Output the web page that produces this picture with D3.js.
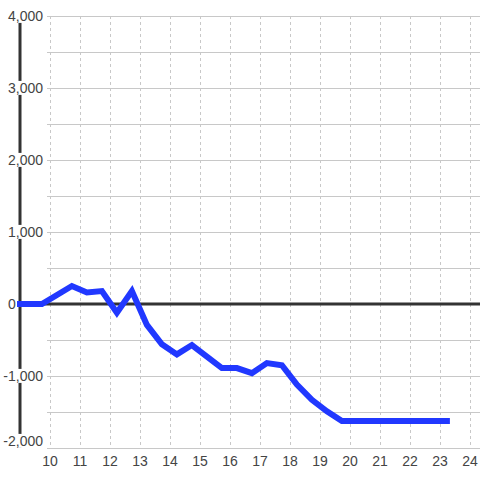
<!DOCTYPE html>
<html>
<head>
<meta charset="utf-8">
<script src="https://cdn.jsdelivr.net/npm/d3@7"></script>
<style>
  body { margin: 0; background: #fff; }
  text { font-family: "Liberation Sans", Arial, sans-serif; }
</style>
</head>
<body>
<div id="chart"></div>
<script>
// data
var hours  = [8.9, 9.73, 10.73, 11.23, 11.73, 12.23, 12.73, 13.23, 13.73, 14.23, 14.73,
              15.23, 15.73, 16.23, 16.73, 17.23, 17.73, 18.23, 18.73, 19.23, 19.73, 23.33];
var values = [0, 0, 250, 160, 180, -120, 180, -290, -560, -700, -570,
              -730, -890, -890, -960, -820, -850, -1120, -1330, -1490, -1625, -1625];
var xTicks = [10, 11, 12, 13, 14, 15, 16, 17, 18, 19, 20, 21, 22, 23, 24];
var yTicks = [-2000, -1000, 0, 1000, 2000, 3000, 4000];
var yGrid  = [-2000, -1500, -1000, -500, 500, 1000, 1500, 2000, 2500, 3000, 3500, 4000];

var chart_width  = 480;
var chart_height = 480;

var svg = d3.select('#chart')
  .append('svg')
  .attr('width', chart_width)
  .attr('height', chart_height);

var x_scale = d3.scaleLinear()
  .domain([9, 24 + 1 / 3])
  .range([20, 480]);

var y_scale = d3.scaleLinear()
  .domain([-2000, 4000])
  .range([448, 16]);

// horizontal grid
svg.append('g')
  .selectAll('line')
  .data(yGrid)
  .enter()
  .append('line')
  .attr('x1', 47)
  .attr('x2', chart_width)
  .attr('y1', function(d){ return Math.round(y_scale(d)) + 0.5; })
  .attr('y2', function(d){ return Math.round(y_scale(d)) + 0.5; })
  .attr('stroke', '#c8c8c8')
  .attr('stroke-width', 1);

// vertical dashed grid
svg.append('g')
  .selectAll('line')
  .data(xTicks)
  .enter()
  .append('line')
  .attr('x1', function(d){ return Math.round(x_scale(d)) + 0.5; })
  .attr('x2', function(d){ return Math.round(x_scale(d)) + 0.5; })
  .attr('y1', y_scale(4000))
  .attr('y2', y_scale(-2000))
  .attr('stroke', '#c8c8c8')
  .attr('stroke-width', 1)
  .attr('stroke-dasharray', '3,3');

// zero line
svg.append('line')
  .attr('x1', x_scale(9))
  .attr('x2', chart_width)
  .attr('y1', y_scale(0))
  .attr('y2', y_scale(0))
  .attr('stroke', '#333')
  .attr('stroke-width', 3);

// y axis line
svg.append('line')
  .attr('x1', x_scale(9))
  .attr('x2', x_scale(9))
  .attr('y1', y_scale(4000))
  .attr('y2', y_scale(-2000))
  .attr('stroke', '#333')
  .attr('stroke-width', 3);

// y labels (with white background over the axis)
var yLab = svg.append('g')
  .selectAll('g')
  .data(yTicks)
  .enter()
  .append('g');

yLab.append('text')
  .attr('x', function(d){ return d === 0 ? 8 : 43; })
  .attr('y', function(d){ return Math.min(y_scale(d), 441); })
  .attr('dy', '0.35em')
  .attr('text-anchor', function(d){ return d === 0 ? 'start' : 'end'; })
  .attr('font-size', 14)
  .attr('fill', '#444')
  .text(function(d){ return d3.format(',')(d).replace('−', '-'); });

yLab.each(function(d){
  if (d === 0) return;
  var g = d3.select(this);
  var bb = g.select('text').node().getBBox();
  g.insert('rect', 'text')
    .attr('x', bb.x)
    .attr('y', bb.y + 1)
    .attr('width', bb.width)
    .attr('height', bb.height - 2)
    .attr('fill', '#fff');
});

// line
var line = d3.line()
  .x(function(d, i){ return x_scale(hours[i]); })
  .y(function(d){ return y_scale(d); });

svg.append('path')
  .datum(values)
  .attr('d', line)
  .attr('fill', 'none')
  .attr('stroke', '#2138ff')
  .attr('stroke-width', 6)
  .attr('stroke-linejoin', 'miter');

// x labels
svg.append('g')
  .selectAll('text')
  .data(xTicks)
  .enter()
  .append('text')
  .attr('x', function(d){ return x_scale(d); })
  .attr('y', 461)
  .attr('dy', '0.35em')
  .attr('text-anchor', 'middle')
  .attr('font-size', 14)
  .attr('fill', '#444')
  .text(function(d){ return d; });
</script>
</body>
</html>
